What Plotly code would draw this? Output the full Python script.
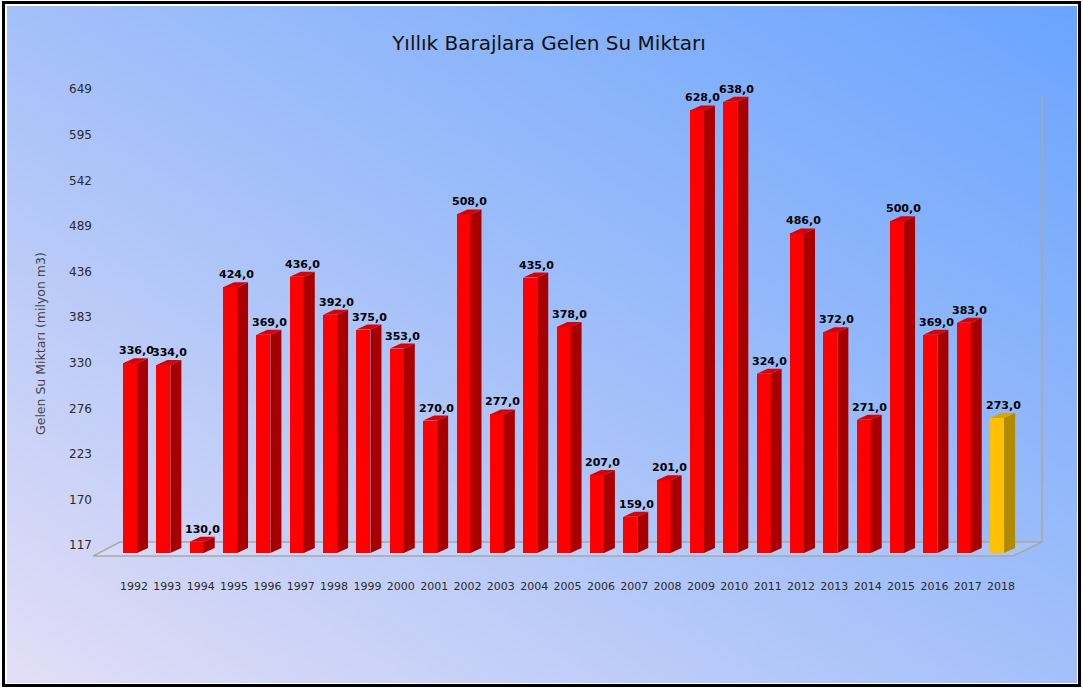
import base64
import plotly.graph_objects as go

# ---- data -------------------------------------------------------------
years = ["1992", "1993", "1994", "1995", "1996", "1997", "1998", "1999",
         "2000", "2001", "2002", "2003", "2004", "2005", "2006", "2007",
         "2008", "2009", "2010", "2011", "2012", "2013", "2014", "2015",
         "2016", "2017", "2018"]
inflow = [336, 334, 130, 424, 369, 436, 392, 375, 353, 270, 508, 277, 435,
          378, 207, 159, 201, 628, 638, 324, 486, 372, 271, 500, 369, 383, 273]
current_year = "2018"
y_ticks = [117, 170, 223, 276, 330, 383, 436, 489, 542, 595, 649]
axis_min = 117
axis_max = 649

chart_title = "Yıllık Barajlara Gelen Su Miktarı"
y_title = "Gelen Su Miktarı (milyon m3)"

# ---- colours ----------------------------------------------------------
FACE = {
    "normal": {"front": "#FF0000", "side": "#A80000", "top": "#D80000"},
    "current": {"front": "#FFC000", "side": "#B08A00", "top": "#D9A300"},
}
GRID_GREY = "#A8A8A8"
TEXT_GREY = "#2A2A2A"

# ---- geometry (pixels) ------------------------------------------------
W, H = 1083, 688
PLOT_L, PLOT_R, PLOT_T, PLOT_B = 93, 1050, 60, 570
FLOOR_PX = 553          # row of the bars' front bottom edge
PX_PER_UNIT = 0.866     # vertical scale of the front plane
FIRST_BAR_PX = 130
BAR_STEP_PX = 33.35
BAR_W_PX = 14
DEPTH_X_PX = 11
DEPTH_Y_PX = 5


def dx(px):
    return px / BAR_STEP_PX


def dy(px):
    return px / PX_PER_UNIT


x_range = [(PLOT_L - FIRST_BAR_PX) / BAR_STEP_PX, (PLOT_R - FIRST_BAR_PX) / BAR_STEP_PX]
y_range = [axis_min - dy(PLOT_B - FLOOR_PX), axis_min + dy(FLOOR_PX - PLOT_T)]

# back-wall scale used for the value labels on the left
WALL_MIN_PX, WALL_MAX_PX = 545, 89
k_wall = (WALL_MIN_PX - WALL_MAX_PX) / (axis_max - axis_min)
y2_range = [axis_min - (PLOT_B - WALL_MIN_PX) / k_wall,
            axis_max + (WALL_MAX_PX - PLOT_T) / k_wall]

plot_w = PLOT_R - PLOT_L
plot_h = PLOT_B - PLOT_T


def paper_x(px):
    return (px - PLOT_L) / plot_w


def paper_y(py):
    return (PLOT_B - py) / plot_h


positions = list(range(len(years)))
kind = ["current" if y == current_year else "normal" for y in years]

fig = go.Figure()

# front faces of the bars
fig.add_trace(go.Bar(
    x=positions,
    y=[v - axis_min for v in inflow],
    base=axis_min,
    width=dx(BAR_W_PX),
    marker=dict(color=[FACE[k]["front"] for k in kind], line=dict(width=0)),
    customdata=years,
    hovertemplate="%{customdata}: %{y}<extra></extra>",
    showlegend=False,
))

# invisible trace on the back-wall axis so it renders
fig.add_trace(go.Scatter(x=[positions[0]], y=[axis_min], yaxis="y2",
                         mode="markers", marker=dict(opacity=0),
                         hoverinfo="skip", showlegend=False))

shapes = []

# floor of the 3D box
f_base_front = axis_min - dy(3)
f_base_back = axis_min + dy(11)
x_first, x_last = positions[0], positions[-1]
floor_path = (f"M {x_first - dx(37)},{f_base_front} "
              f"L {x_last + dx(16)},{f_base_front} "
              f"L {x_last + dx(45)},{f_base_back} "
              f"L {x_first - dx(10)},{f_base_back} Z")
shapes.append(dict(type="path", path=floor_path, xref="x", yref="y",
                   line=dict(color=GRID_GREY, width=1.5),
                   fillcolor="rgba(255,255,255,0.12)", layer="below"))
# back wall edge
shapes.append(dict(type="line", xref="x", yref="y",
                   x0=x_last + dx(45), x1=x_last + dx(45),
                   y0=f_base_back, y1=axis_min + dy(FLOOR_PX - 97),
                   line=dict(color=GRID_GREY, width=1.5), layer="below"))

# side and top faces
half = dx(BAR_W_PX) / 2
ddx, ddy = dx(DEPTH_X_PX), dy(DEPTH_Y_PX)
annotations = []
for i, v, k in zip(positions, inflow, kind):
    xl, xr = i - half, i + half
    side = (f"M {xr},{axis_min} L {xr + ddx},{axis_min + ddy} "
            f"L {xr + ddx},{v + ddy} L {xr},{v} Z")
    top = (f"M {xl},{v} L {xr},{v} L {xr + ddx},{v + ddy} "
           f"L {xl + ddx},{v + ddy} Z")
    shapes.append(dict(type="path", path=side, xref="x", yref="y",
                       fillcolor=FACE[k]["side"], line=dict(width=0)))
    shapes.append(dict(type="path", path=top, xref="x", yref="y",
                       fillcolor=FACE[k]["top"], line=dict(width=0)))
    annotations.append(dict(
        x=i + dx(6), y=v + ddy, xref="x", yref="y",
        text=f"{v:.1f}".replace(".", ","), showarrow=False,
        yanchor="bottom", xanchor="center", borderpad=0,
        font=dict(family="DejaVu Sans", size=11, color="#000000", weight="bold"),
    ))

# outer frame
shapes.append(dict(type="rect", xref="paper", yref="paper",
                   x0=paper_x(3.5), x1=paper_x(1079.5),
                   y0=paper_y(685.5), y1=paper_y(2.5),
                   line=dict(color="#000000", width=3), layer="above"))

# y axis title
annotations.append(dict(
    x=paper_x(40), y=paper_y(344), xref="paper", yref="paper",
    text=y_title, textangle=-90, showarrow=False,
    xanchor="center", yanchor="middle",
    font=dict(family="DejaVu Sans", size=12.5, color="#444444"),
))

# diagonal background gradient
svg = (
    '<svg xmlns="http://www.w3.org/2000/svg" width="100" height="100" '
    'viewBox="0 0 100 100" preserveAspectRatio="none">'
    '<defs><linearGradient id="g" x1="0" y1="1" x2="1" y2="0">'
    '<stop offset="0" stop-color="#E3DEF6"/>'
    '<stop offset="0.5" stop-color="#A3C0F9"/>'
    '<stop offset="1" stop-color="#6AA4FE"/>'
    '</linearGradient></defs>'
    '<rect width="100" height="100" fill="url(#g)"/></svg>'
)
bg_src = "data:image/svg+xml;base64," + base64.b64encode(svg.encode()).decode()

fig.update_layout(
    width=W, height=H,
    margin=dict(l=PLOT_L, r=W - PLOT_R, t=PLOT_T, b=H - PLOT_B, pad=0),
    paper_bgcolor="#FFFFFF",
    plot_bgcolor="rgba(0,0,0,0)",
    title=dict(text=chart_title, x=549 / W, xref="container", xanchor="center",
               y=1 - 43 / H, yref="container", yanchor="middle",
               font=dict(family="DejaVu Sans", size=20, color="#111111")),
    images=[dict(source=bg_src, xref="paper", yref="paper",
                 x=paper_x(7), y=paper_y(6),
                 sizex=(1077 - 7) / plot_w, sizey=(683 - 6) / plot_h,
                 xanchor="left", yanchor="top", sizing="stretch",
                 layer="below")],
    xaxis=dict(range=x_range, showgrid=False, zeroline=False, showline=False,
               tickmode="array", tickvals=[p + dx(4) for p in positions],
               ticktext=years, ticks="outside", ticklen=6,
               tickcolor="rgba(0,0,0,0)",
               tickfont=dict(family="DejaVu Sans", size=11, color=TEXT_GREY),
               fixedrange=True),
    yaxis=dict(range=y_range, showgrid=False, zeroline=False, showline=False,
               showticklabels=False, fixedrange=True),
    yaxis2=dict(range=y2_range, overlaying="y", side="left",
                showgrid=False, zeroline=False, showline=False,
                tickmode="array", tickvals=y_ticks,
                ticktext=[str(t) for t in y_ticks], ticks="",
                tickfont=dict(family="DejaVu Sans", size=12, color=TEXT_GREY),
                fixedrange=True),
    shapes=shapes,
    annotations=annotations,
    bargap=0,
)

fig.write_html("out.html")
